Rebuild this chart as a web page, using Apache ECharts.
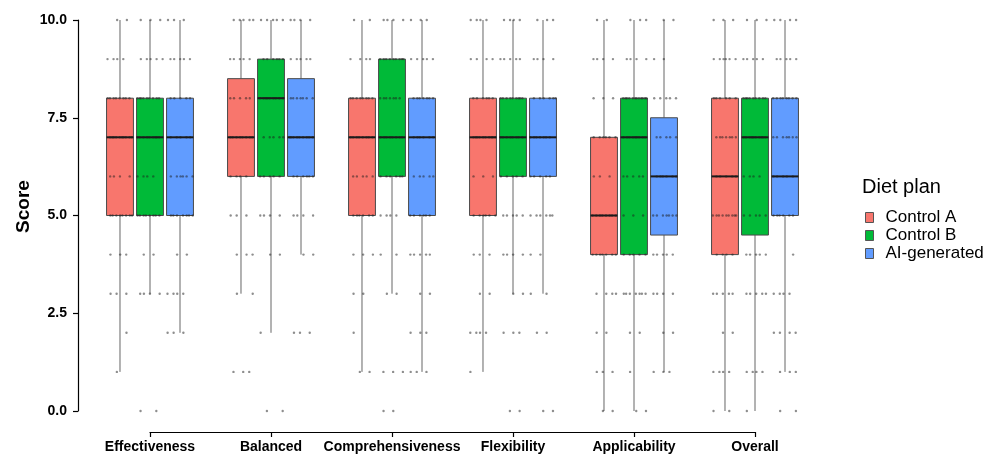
<!DOCTYPE html>
<html>
<head>
<meta charset="utf-8">
<script src="https://cdn.jsdelivr.net/npm/echarts@6/dist/echarts.min.js"></script>
<style>html,body{margin:0;padding:0;background:#fff}#c{width:987px;height:454px}</style>
</head>
<body>
<div id="c"></div>
<script>
const categories = ['Effectiveness', 'Balanced', 'Comprehensiveness', 'Flexibility', 'Applicability', 'Overall'];
const plans = ['Control A', 'Control B', 'AI-generated'];
const planColors = ['#F8766D', '#00BA38', '#619CFF'];
const scoreTicks = [0, 2.5, 5, 7.5, 10];

// [lower whisker, Q1, median, Q3, upper whisker] per category
const boxControlA = [[1, 5, 7, 8, 10], [3, 6, 7, 8.5, 10], [1, 5, 7, 8, 10], [1, 5, 7, 8, 10], [0, 4, 5, 7, 10], [0, 4, 6, 8, 10]];
const boxControlB = [[3, 5, 7, 8, 10], [2, 6, 8, 9, 10], [3, 6, 7, 9, 10], [3, 6, 7, 8, 10], [0, 4, 7, 8, 10], [0, 4.5, 7, 8, 10]];
const boxAI = [[2, 5, 7, 8, 10], [4, 6, 7, 8.5, 10], [1, 5, 7, 8, 10], [3, 6, 7, 8, 10], [1, 4.5, 6, 7.5, 10], [1, 5, 6, 8, 10]];

// number of responses at score 0..10 per category (estimated from the dots)
const countsControlA = [
  [0, 1, 1, 3, 3, 8, 4, 10, 8, 4, 2],
  [0, 3, 0, 2, 3, 3, 4, 8, 5, 5, 5],
  [0, 2, 1, 2, 3, 6, 5, 8, 8, 4, 2],
  [0, 1, 4, 2, 3, 6, 3, 10, 6, 4, 4],
  [2, 3, 2, 4, 7, 8, 3, 6, 3, 4, 2],
  [2, 4, 2, 5, 4, 9, 5, 7, 6, 6, 3]
];
const countsControlB = [
  [2, 0, 0, 4, 2, 8, 4, 9, 9, 5, 3],
  [2, 0, 1, 0, 2, 4, 5, 5, 9, 6, 5],
  [2, 3, 0, 2, 2, 4, 6, 8, 7, 9, 4],
  [2, 0, 3, 2, 4, 5, 5, 8, 9, 5, 4],
  [2, 1, 2, 7, 5, 3, 5, 9, 12, 4, 3],
  [1, 4, 0, 5, 5, 5, 4, 10, 9, 5, 3]
];
const countsAI = [
  [0, 0, 3, 4, 2, 7, 6, 5, 5, 5, 3],
  [0, 0, 3, 0, 2, 4, 6, 9, 7, 5, 4],
  [0, 3, 3, 2, 5, 6, 5, 6, 7, 5, 3],
  [2, 0, 2, 2, 2, 6, 5, 7, 6, 4, 3],
  [0, 3, 2, 4, 5, 7, 6, 5, 5, 2, 2],
  [2, 3, 4, 4, 1, 6, 5, 7, 8, 5, 4]
];

const boxes = [boxControlA, boxControlB, boxAI];
const counts = [countsControlA, countsControlB, countsAI];
const FONT = '"Liberation Sans", Arial, sans-serif';

function makeRender(k, cnts) {
  return function (params, api) {
    const ci = api.value(0);
    const band = api.size([1, 0])[0];
    const off = (k - 1) * band * 0.248;
    const bw = band * 0.222;
    const x = api.coord([ci, 0])[0] + off;
    const y = v => api.coord([ci, v])[1];
    const yLow = y(api.value(1)), yQ1 = y(api.value(2)), yMed = y(api.value(3)),
          yQ3 = y(api.value(4)), yHigh = y(api.value(5));
    const children = [
      { type: 'line', shape: { x1: x, y1: yHigh, x2: x, y2: yQ3 }, style: { stroke: '#666', lineWidth: 1 } },
      { type: 'line', shape: { x1: x, y1: yQ1, x2: x, y2: yLow }, style: { stroke: '#666', lineWidth: 1 } },
      { type: 'rect', shape: { x: x - bw / 2, y: yQ3, width: bw, height: yQ1 - yQ3 },
        style: { fill: api.visual('color'), stroke: '#4a4a4a', lineWidth: 1 } },
      { type: 'line', shape: { x1: x - bw / 2, y1: yMed, x2: x + bw / 2, y2: yMed }, style: { stroke: '#1a1a1a', lineWidth: 2 } }
    ];
    const c = cnts[params.dataIndex];
    c.forEach((n, s) => {
      for (let i = 0; i < n; i++) {
        const f = (i * 0.618034 + s * 0.377 + ci * 0.21 + k * 0.13) % 1;
        children.push({ type: 'circle', shape: { cx: x + (f - 0.5) * bw * 0.95, cy: y(s), r: 1.2 },
          style: { fill: 'rgba(30,30,30,0.5)' } });
      }
    });
    return { type: 'group', children };
  };
}

const series = plans.map((p, k) => ({
  name: p,
  type: 'custom',
  itemStyle: { color: planColors[k] },
  encode: { x: 0, y: [1, 2, 3, 4, 5] },
  data: boxes[k].map((b, ci) => [ci].concat(b)),
  renderItem: makeRender(k, counts[k])
}));

const chart = echarts.init(document.getElementById('c'));
chart.setOption({
  animation: false,
  backgroundColor: '#fff',
  title: { text: 'Diet plan', left: 857, top: 172, textStyle: { fontFamily: FONT, fontSize: 20, fontWeight: 'normal', color: '#000' } },
  legend: {
    orient: 'vertical', left: 860, top: 204, itemWidth: 8, itemHeight: 10, itemGap: 1,
    data: plans.map(p => ({ name: p, icon: 'rect', itemStyle: { borderColor: '#555', borderWidth: 1 } })),
    textStyle: { fontFamily: FONT, fontSize: 17, color: '#000', lineHeight: 16, padding: [0, 0, 0, 7] }
  },
  grid: { left: 150, right: 232, top: 20, bottom: 43 },
  xAxis: {
    type: 'category', data: categories, boundaryGap: false, offset: 21,
    axisLine: { onZero: false, lineStyle: { color: '#000', width: 1.2 } },
    axisTick: { length: 5, lineStyle: { color: '#000', width: 1.2 } },
    axisLabel: { fontFamily: FONT, fontSize: 14, fontWeight: 'bold', color: '#000', margin: 8, interval: 0 },
    splitLine: { show: false }
  },
  yAxis: {
    type: 'value', min: scoreTicks[0], max: scoreTicks[scoreTicks.length - 1], interval: 2.5, offset: 72,
    name: 'Score', nameLocation: 'middle', nameGap: 45, nameRotate: 90, nameMoveOverlap: false,
    nameTextStyle: { fontFamily: FONT, fontSize: 19, fontWeight: 'bold', color: '#000', padding: [0, 0, 0, 18] },
    axisLine: { show: true, onZero: false, lineStyle: { color: '#000', width: 1.2 } },
    axisTick: { show: true, length: 5, lineStyle: { color: '#000', width: 1.2 } },
    axisLabel: { fontFamily: FONT, fontSize: 14, fontWeight: 'bold', color: '#000', margin: 11, formatter: v => v.toFixed(1) },
    splitLine: { show: false }
  },
  series
});
</script>
</body>
</html>
